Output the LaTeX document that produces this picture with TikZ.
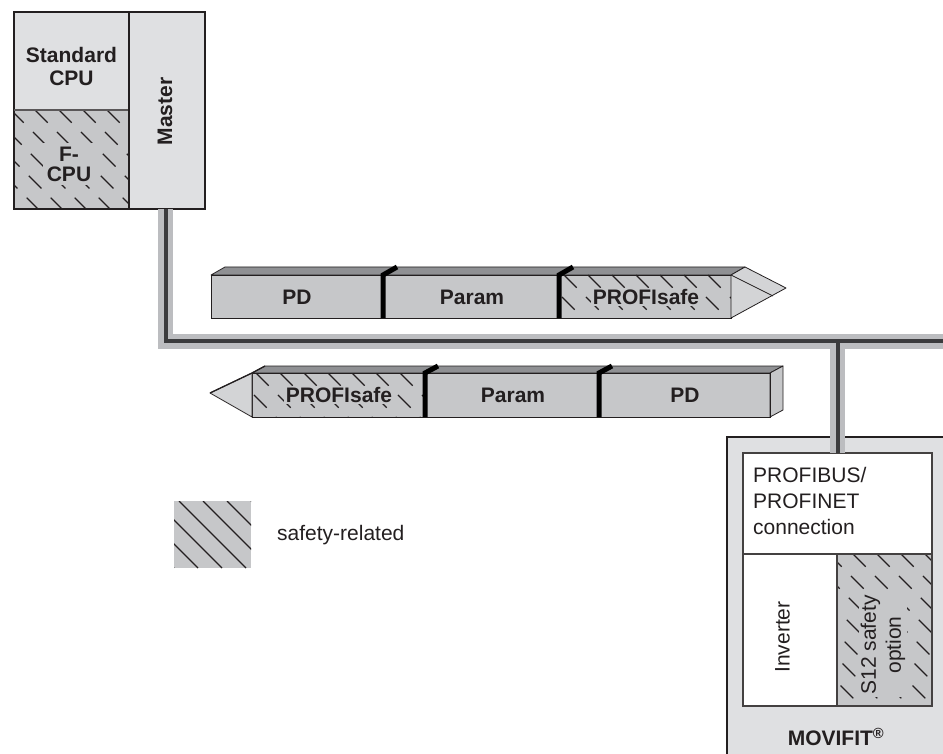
\documentclass[tikz,border=0pt]{standalone}
\usepackage{fontspec}
\setmainfont{Liberation Sans}
\definecolor{dk}{HTML}{231F20}
\definecolor{lightg}{HTML}{DFE0E2}
\definecolor{midg}{HTML}{C6C7C9}
\definecolor{topg}{HTML}{8F9093}
\definecolor{headg}{HTML}{D3D4D6}
\definecolor{busg}{HTML}{BCBDC0}
\definecolor{busd}{HTML}{3B3B3D}
\newcommand{\hatchbox}[5]{%
  \begin{scope}
    \clip (#1,#2) rectangle (#3,#4);
    \pgfmathsetmacro{\hbH}{#4-#2}
    \pgfmathtruncatemacro{\hbN}{(#3-#1+\hbH)/24+1}
    \foreach \k in {0,...,\hbN}{
      \draw[#5] ({#1-\hbH+\k*24},#2) -- ++(\hbH,\hbH);
    }
  \end{scope}}
\begin{document}
\begin{tikzpicture}[x=1pt,y=-1pt,
  frame/.style={draw=dk, line width=1.8pt, inner sep=0pt, outer sep=0pt, anchor=north west},
  thinframe/.style={draw=dk!85, line width=1.1pt, inner sep=0pt, outer sep=0pt, anchor=north west},
  bold/.style={font=\bfseries\fontsize{21}{23}\selectfont, text=dk, align=center, inner sep=1.5pt},
  plain/.style={font=\fontsize{21}{26}\selectfont, text=dk, inner sep=0pt},
  hatchdash/.style={draw=dk, line width=1.1pt, dash pattern=on 18pt off 13pt},
  hatchsolid/.style={draw=dk, line width=1.1pt},
  topface/.style={fill=topg, draw=dk, line width=0.8pt, line join=round},
  frontface/.style={fill=midg, draw=dk, line width=0.8pt},
  headface/.style={fill=headg, draw=dk, line width=0.8pt, line join=round},
  divider/.style={draw=black, line width=5pt},
  busbg/.style={draw=busg, line width=15pt, line join=miter},
  busfg/.style={draw=busd, line width=4pt, line join=miter}]
\useasboundingbox (0,0) rectangle (943,754);
\clip (0,0) rectangle (943,754);

% ---------- controller block ----------
\node[frame, fill=lightg, minimum width=115pt, minimum height=98pt] (std) at (14,12) {};
\node[frame, fill=midg, minimum width=115pt, minimum height=99pt] (fcpu) at (14,110) {};
\hatchbox{14}{110}{129}{209}{hatchdash}
\draw[dk!75, line width=2pt] (std.south west) -- (std.south east);
\node[frame, fill=lightg, minimum width=76pt, minimum height=197pt] (master) at (129,12) {};
\node[bold] (stdt) at (71.5,66) {Standard\\CPU};
\node[bold, fill=midg, inner sep=4pt, font=\bfseries\fontsize{21}{20}\selectfont] (fcput) at (69,164) {F-\\CPU};
\node[bold, rotate=90] (mastert) at (165,111.5) {Master};

% ---------- MOVIFIT ----------
\node[frame, fill=lightg, minimum width=260pt, minimum height=340pt] (movifit) at (727,437) {};
\node[thinframe, fill=white, minimum width=189pt, minimum height=101pt] (conn) at (743,453) {};
\node[thinframe, fill=white, minimum width=94pt, minimum height=152pt] (inv) at (743,554) {};
\node[thinframe, fill=midg, minimum width=95pt, minimum height=152pt] (s12) at (837,554) {};
\hatchbox{837}{554}{932}{706}{hatchdash}
\draw[thinframe] (s12.north west) rectangle (s12.south east);
\node[plain, anchor=north west, align=left] (connt) at (753,467.5) {PROFIBUS/\\PROFINET\\connection};
\node[plain, rotate=90] (invt) at (782.5,637) {Inverter};
\node[plain, rotate=90, align=center, fill=midg, inner sep=2pt, font=\fontsize{21}{25}\selectfont] (s12t) at (883,645) {S12 safety\\option};
\node[bold] (movt) at (836,737) {MOVIFIT\textsuperscript{\textregistered}};

% ---------- bus ----------
\coordinate (busend) at (950,341);
\draw[busbg] ([xshift=-1.5pt]master.south) |- (busend);
\draw[busbg] (conn.north |- busend) -- (conn.north);
\draw[busfg] ([xshift=-1.5pt]master.south) |- (busend);
\draw[busfg] (conn.north |- busend) -- (conn.north);

% ---------- upper telegram (to the right) ----------
\draw[topface] (211,275) -- (225,267) -- (745,267) -- (731,275) -- cycle;
\draw[frontface] (211,275) rectangle (731,318);
\hatchbox{559}{275}{731}{318}{hatchdash}
\draw[dk, line width=0.8pt] (211,275) rectangle (731,318);
\draw[headface] (731,275) -- (745,267) -- (786,288) -- (731,318) -- cycle;
\draw[dk, line width=0.8pt] (731,275) -- (773,296);
\draw[divider] (383,318) -- (383,275) -- (397,267);
\draw[divider] (559,318) -- (559,275) -- (573,267);
\node[bold] (pdU) at (297,297) {PD};
\node[bold] (paramU) at (472,297) {Param};
\node[bold, fill=midg] (safeU) at (646,297) {PROFIsafe};

% ---------- lower telegram (to the left) ----------
\draw[topface] (252,373) -- (265,366) -- (783,366) -- (770,373) -- cycle;
\draw[frontface] (252,373) rectangle (770,417);
\draw[frontface, line join=round] (770,373) -- (783,366) -- (783,410) -- (770,417) -- cycle;
\hatchbox{252}{373}{425}{417}{hatchdash}
\draw[dk, line width=0.8pt] (252,373) rectangle (770,417);
\draw[headface] (252,373) -- (210,393) -- (252,417) -- cycle;
\draw[dk, line width=1.3pt, line join=round] (210,393) -- (252,373) -- (265,366);
\draw[divider] (425,417) -- (425,373) -- (438,366);
\draw[divider] (599,417) -- (599,373) -- (612,366);
\node[bold, fill=midg] (safeL) at (339,395) {PROFIsafe};
\node[bold] (paramL) at (513,395) {Param};
\node[bold] (pdL) at (685,395) {PD};

% ---------- legend ----------
\node[fill=midg, minimum width=77pt, minimum height=67pt, anchor=north west, inner sep=0pt, outer sep=0pt] (leg) at (174,501) {};
\hatchbox{174}{501}{251}{568}{hatchsolid}
\node[plain, anchor=base west] (legt) at (277,540) {safety-related};
\end{tikzpicture}
\end{document}
